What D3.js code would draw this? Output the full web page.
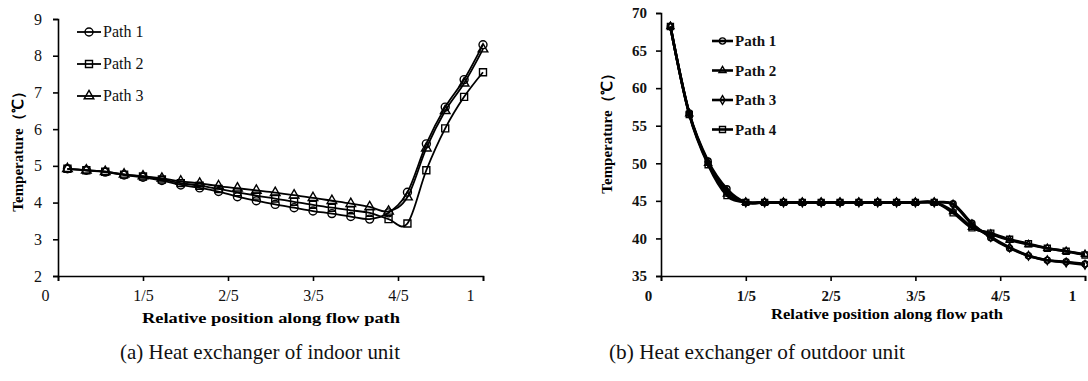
<!DOCTYPE html>
<html>
<head>
<meta charset="utf-8">
<script src="https://cdn.jsdelivr.net/npm/d3@7"></script>
<style>
  body { margin: 0; background: #fff; }
  svg { display: block; font-family: "Liberation Serif", "Times New Roman", serif; }
</style>
</head>
<body>
<svg id="chart" width="1088" height="381"></svg>
<script>
// segment index along the flow path (23 measuring points)
const segments = d3.range(1, 24);
const xTickValues = [0, 0.2, 0.4, 0.6, 0.8, 1];
const xTickLabels = ['0', '1/5', '2/5', '3/5', '4/5', '1'];

// (a) indoor unit
const indoorNames = ['Path 1', 'Path 2', 'Path 3'];
const indoorPath1 = [4.92, 4.88, 4.83, 4.75, 4.69, 4.60, 4.48, 4.40, 4.30, 4.16, 4.05, 3.95, 3.86, 3.77, 3.70, 3.62, 3.55, 3.72, 4.28, 5.60, 6.60, 7.35, 8.30];
const indoorPath2 = [4.92, 4.88, 4.84, 4.76, 4.71, 4.63, 4.53, 4.46, 4.37, 4.28, 4.19, 4.11, 4.02, 3.94, 3.86, 3.79, 3.72, 3.55, 3.43, 4.88, 6.02, 6.88, 7.55];
const indoorPath3 = [4.92, 4.88, 4.84, 4.77, 4.72, 4.66, 4.58, 4.52, 4.45, 4.39, 4.33, 4.27, 4.20, 4.13, 4.05, 3.97, 3.88, 3.76, 4.15, 5.48, 6.50, 7.25, 8.18];
const indoorTicks = [2, 3, 4, 5, 6, 7, 8, 9];

// (b) outdoor unit
const outdoorNames = ['Path 1', 'Path 2', 'Path 3', 'Path 4'];
const outdoorPath1 = [68.2, 56.7, 50.3, 46.6, 44.8, 44.8, 44.8, 44.8, 44.8, 44.8, 44.8, 44.8, 44.8, 44.8, 44.8, 44.6, 42.0, 40.1, 38.7, 37.7, 37.1, 36.9, 36.6];
const outdoorPath2 = [68.2, 56.6, 50.0, 45.9, 44.8, 44.8, 44.8, 44.8, 44.8, 44.8, 44.8, 44.8, 44.8, 44.8, 44.8, 43.6, 41.5, 40.6, 39.8, 39.2, 38.7, 38.3, 37.9];
const outdoorPath3 = [68.2, 56.6, 50.1, 46.3, 44.8, 44.8, 44.8, 44.8, 44.8, 44.8, 44.8, 44.8, 44.8, 44.8, 44.8, 44.5, 41.9, 40.2, 38.8, 37.7, 37.1, 36.8, 36.5];
const outdoorPath4 = [68.2, 56.5, 49.8, 45.7, 44.8, 44.8, 44.8, 44.8, 44.8, 44.8, 44.8, 44.8, 44.8, 44.8, 44.8, 43.4, 41.4, 40.7, 39.9, 39.3, 38.7, 38.3, 37.8];
const outdoorTicks = [35, 40, 45, 50, 55, 60, 65, 70];

const svg = d3.select('#chart');

// relative position of a measuring point (centre of its segment)
const relPos = d3.scaleLinear().domain([0.5, 23]).range([0, 1]);

function drawPanel(cfg) {
  const g = svg.append('g');
  const x = d3.scaleLinear().domain([0, 1]).range(cfg.xRange);
  const y = d3.scaleLinear().domain(cfg.yDomain).range(cfg.yRange);

  // x axis
  const xAxis = g.append('g')
    .attr('transform', `translate(0,${cfg.yRange[0]})`)
    .call(d3.axisBottom(x).tickValues(xTickValues)
      .tickFormat((d, i) => xTickLabels[i]).tickSizeOuter(0).tickSize(5).tickPadding(9));
  xAxis.selectAll('text')
    .attr('dx', (d, i) => (i === 0 || i === xTickLabels.length - 1) ? -13 : 0);

  // y axis
  const yAxis = g.append('g')
    .attr('transform', `translate(${cfg.xRange[0]},0)`)
    .call(d3.axisLeft(y).tickValues(cfg.yTicks).tickFormat(d3.format('d'))
      .tickSizeOuter(0).tickSize(5).tickPadding(cfg.yPad));

  [xAxis, yAxis].forEach(a => {
    a.attr('font-family', null);
    a.select('.domain').attr('stroke', '#000').attr('stroke-width', 1.6);
    a.selectAll('line').attr('stroke', '#000').attr('stroke-width', 1.6);
    a.selectAll('text')
      .attr('fill', '#111')
      .style('font-family', '"Liberation Serif", serif')
      .style('font-size', cfg.tickSize + 'px')
      .style('font-weight', cfg.bold ? 'bold' : 'normal');
  });

  // series
  const line = d3.line()
    .x((d, i) => x(relPos(segments[i])))
    .y(d => y(d))
    .curve(d3.curveCatmullRom.alpha(0));

  cfg.series.forEach(s => {
    g.append('path')
      .attr('d', line(s))
      .attr('fill', 'none')
      .attr('stroke', '#000')
      .attr('stroke-width', cfg.lineWidth);
  });
  cfg.series.forEach((s, k) => {
    g.append('g').selectAll('path')
      .data(s)
      .join('path')
      .attr('transform', (d, i) => `translate(${x(relPos(segments[i]))},${y(d)})`)
      .attr('d', d3.symbol().type(cfg.symbols[k]).size(cfg.symbolSizes[k]))
      .attr('fill', 'none')
      .attr('stroke', '#000')
      .attr('stroke-width', cfg.markerWidth);
  });

  // legend
  const leg = g.append('g').selectAll('g')
    .data(cfg.names)
    .join('g')
    .attr('transform', (d, i) => `translate(${cfg.legend.x},${cfg.legend.y + i * cfg.legend.step})`);
  leg.append('line')
    .attr('x1', 0).attr('x2', cfg.legend.len)
    .attr('stroke', '#000').attr('stroke-width', cfg.lineWidth);
  leg.append('path')
    .attr('transform', `translate(${cfg.legend.len / 2},0)`)
    .attr('d', (d, i) => d3.symbol().type(cfg.symbols[i]).size(cfg.symbolSizes[i])())
    .attr('fill', 'none').attr('stroke', '#000').attr('stroke-width', cfg.markerWidth);
  leg.append('text')
    .attr('x', cfg.legend.len + 2)
    .attr('y', 5)
    .style('font-size', cfg.legend.font + 'px')
    .style('font-weight', cfg.bold ? 'bold' : 'normal')
    .attr('fill', '#111')
    .text(d => d);

  // axis titles
  g.append('text')
    .attr('x', cfg.xTitle.x).attr('y', cfg.xTitle.y)
    .attr('text-anchor', 'middle')
    .style('font-size', '15px').style('font-weight', 'bold')
    .attr('textLength', cfg.xTitle.len).attr('lengthAdjust', 'spacingAndGlyphs')
    .text('Relative position along flow path');

  g.append('text')
    .attr('transform', `translate(${cfg.yTitle.x},${cfg.yTitle.y}) rotate(-90)`)
    .attr('text-anchor', 'middle')
    .style('font-size', '15px').style('font-weight', 'bold')
    .text('Temperature（℃）');

  // caption
  g.append('text')
    .attr('x', cfg.caption.x).attr('y', 359)
    .attr('text-anchor', 'middle')
    .style('font-size', '21px')
    .attr('textLength', cfg.caption.len).attr('lengthAdjust', 'spacingAndGlyphs')
    .attr('fill', '#111')
    .text(cfg.caption.text);
}

drawPanel({
  xRange: [58, 483], yDomain: [2, 9], yRange: [276, 19], yTicks: indoorTicks, yPad: 11,
  tickSize: 16, bold: false, lineWidth: 1.8, markerWidth: 1.4,
  series: [indoorPath1, indoorPath2, indoorPath3],
  names: indoorNames,
  symbols: [d3.symbolCircle, d3.symbolSquare, d3.symbolTriangle],
  symbolSizes: [50, 49, 40],
  legend: { x: 77, y: 32, step: 32, len: 24, font: 16 },
  xTitle: { x: 271, y: 323, len: 258 },
  yTitle: { x: 23, y: 148 },
  caption: { x: 260, text: '(a) Heat exchanger of indoor unit', len: 280 }
});

drawPanel({
  xRange: [661, 1085], yDomain: [35, 70], yRange: [276, 13], yTicks: outdoorTicks, yPad: 9,
  tickSize: 15, bold: true, lineWidth: 2.6, markerWidth: 1.4,
  series: [outdoorPath1, outdoorPath2, outdoorPath3, outdoorPath4],
  names: outdoorNames,
  symbols: [d3.symbolCircle, d3.symbolTriangle, d3.symbolDiamond, d3.symbolSquare],
  symbolSizes: [30, 22, 22, 36],
  legend: { x: 712, y: 41, step: 29.5, len: 21, font: 15 },
  xTitle: { x: 887, y: 319, len: 232 },
  yTitle: { x: 612, y: 130 },
  caption: { x: 757, text: '(b) Heat exchanger of outdoor unit', len: 296 }
});
</script>
</body>
</html>
